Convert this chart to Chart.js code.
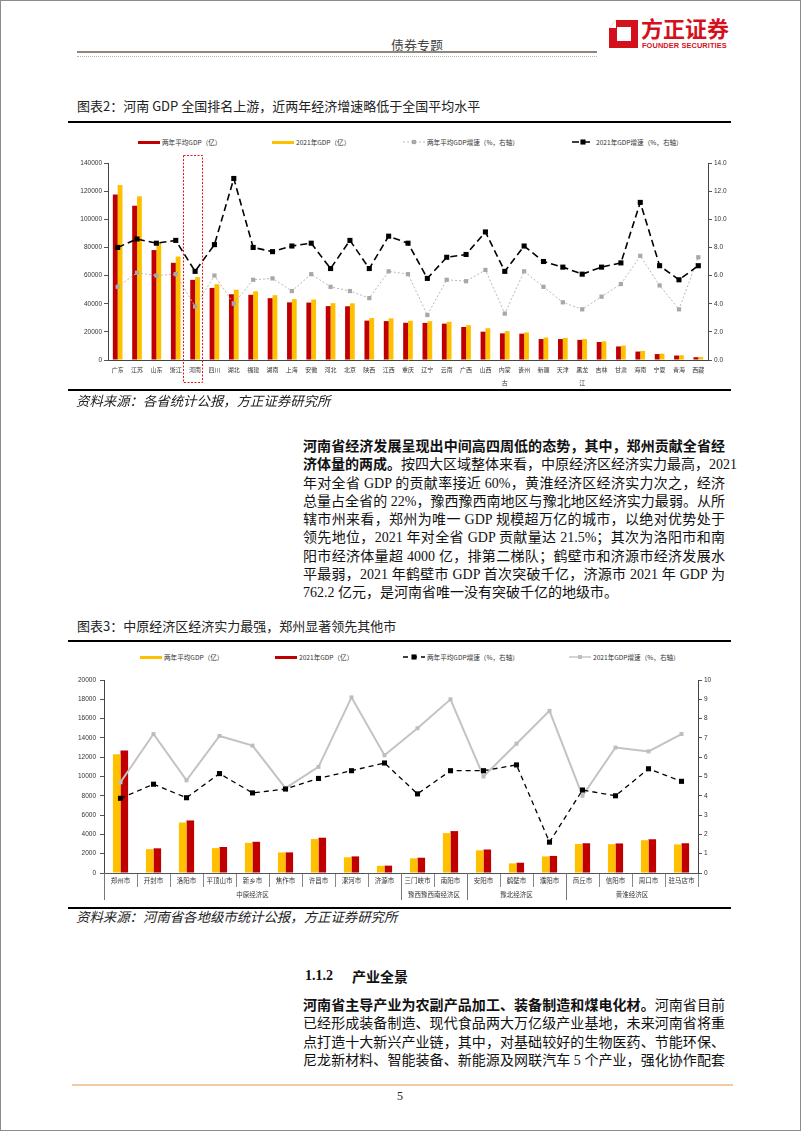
<!DOCTYPE html>
<html>
<head>
<meta charset="utf-8">
<script src="https://cdn.jsdelivr.net/npm/chart.js@4.4.1/dist/chart.umd.min.js"></script>
<style>
html,body{margin:0;padding:0;background:#fff;}
#page{position:relative;width:802px;height:1133px;overflow:hidden;background:#fff;color:#111;
  font-family:"Liberation Serif","Noto Sans CJK SC",serif;}
.abs{position:absolute;}
.frame{left:0;top:0;width:799px;height:1129px;border:1px solid #8c8c8c;}
.hdr{left:391px;top:36px;font:13px/18px "Noto Sans CJK SC",sans-serif;color:#444;}
.hline{left:77px;top:51px;width:520px;height:2px;background:#8f887a;}
.hdot{left:77px;top:56px;width:520px;height:0;border-top:1px dotted #b5b5b5;}
.logo-cn{left:641px;top:14px;font:bold 22px/26px "Noto Sans CJK SC",sans-serif;color:#d5101d;letter-spacing:0px;}
.logo-en{left:642px;top:41px;font:bold 7.4px/9px "Liberation Sans",sans-serif;color:#d5101d;letter-spacing:0.1px;}
.ttl{left:77px;font:13px/18px "Noto Sans CJK SC",sans-serif;color:#222;}
.thick{left:68px;width:663px;height:2px;background:#000;}
.src{left:76px;font:italic 13.4px/18px "Noto Sans CJK SC",sans-serif;color:#222;}
.para{left:303px;width:422px;font-size:14px;line-height:18.3px;}
.para div{text-align:justify;text-align-last:justify;white-space:nowrap;}
.para div.last{text-align-last:left;}
.legend{left:0;width:802px;height:10px;}
.lg-item{position:absolute;top:0;height:10px;display:flex;align-items:center;white-space:nowrap;
  font:6.6px/10px "Noto Sans CJK SC",sans-serif;color:#333;}
.lg-item .sw{width:22px;height:10px;margin-right:2px;display:flex;align-items:center;}
</style>
</head>
<body>
<div id="page">
  <div class="abs frame"></div>
  <div class="abs hdr">债券专题</div>
  <div class="abs hline"></div>
  <div class="abs hdot"></div>
  <svg class="abs" style="left:608px;top:19px" width="31" height="30" viewBox="0 0 31 30">
    <path d="M8 1 L30 1 L30 29 L1 29 L1 9 Z M9 8 L9 22 L23 22 L23 8 Z" fill="#d5101d" fill-rule="evenodd"/>
    <path d="M1 9 L8 1 L8 9 Z" fill="#ffffff"/>
  </svg>
  <div class="abs logo-cn">方正证券</div>
  <div class="abs logo-en">FOUNDER SECURITIES</div>

  <div class="abs ttl" style="top:97px">图表2：河南 GDP 全国排名上游，近两年经济增速略低于全国平均水平</div>
  <div class="abs thick" style="top:121px"></div>
  <div class="abs legend" id="lg1" style="top:137px"></div>
  <div class="abs" style="left:0;top:150px;width:802px;height:242px"><canvas id="c1" width="802" height="242"></canvas></div>
  <div class="abs thick" style="top:389px"></div>
  <div class="abs src" style="top:391px">资料来源：各省统计公报，方正证券研究所</div>

  <div class="abs para" style="top:438px">
    <div><b>河南省经济发展呈现出中间高四周低的态势，其中，郑州贡献全省经</b></div>
    <div><b>济体量的两成。</b>按四大区域整体来看，中原经济区经济实力最高，2021</div>
    <div>年对全省 GDP 的贡献率接近 60%，黄淮经济区经济实力次之，经济</div>
    <div>总量占全省的 22%，豫西豫西南地区与豫北地区经济实力最弱。从所</div>
    <div>辖市州来看，郑州为唯一 GDP 规模超万亿的城市，以绝对优势处于</div>
    <div>领先地位，2021 年对全省 GDP 贡献量达 21.5%；其次为洛阳市和南</div>
    <div>阳市经济体量超 4000 亿，排第二梯队；鹤壁市和济源市经济发展水</div>
    <div>平最弱，2021 年鹤壁市 GDP 首次突破千亿，济源市 2021 年 GDP 为</div>
    <div class="last">762.2 亿元，是河南省唯一没有突破千亿的地级市。</div>
  </div>

  <div class="abs ttl" style="top:617px">图表3：中原经济区经济实力最强，郑州显著领先其他市</div>
  <div class="abs thick" style="top:640px"></div>
  <div class="abs legend" id="lg2" style="top:652px"></div>
  <div class="abs" style="left:0;top:670px;width:802px;height:236px"><canvas id="c2" width="802" height="236"></canvas></div>
  <div class="abs thick" style="top:907px"></div>
  <div class="abs src" style="top:907px">资料来源：河南省各地级市统计公报，方正证券研究所</div>

  <div class="abs" style="left:305px;top:966px;font:bold 14px/20px 'Liberation Serif','Noto Sans CJK SC',serif;">1.1.2</div>
  <div class="abs" style="left:352px;top:966px;font:bold 14px/20px 'Noto Sans CJK SC',sans-serif;">产业全景</div>
  <div class="abs para" style="top:997px">
    <div><b>河南省主导产业为农副产品加工、装备制造和煤电化材。</b>河南省目前</div>
    <div>已经形成装备制造、现代食品两大万亿级产业基地，未来河南省将重</div>
    <div>点打造十大新兴产业链，其中，对基础较好的生物医药、节能环保、</div>
    <div>尼龙新材料、智能装备、新能源及网联汽车 5 个产业，强化协作配套</div>
  </div>
  <div class="abs" style="left:72px;top:1084px;width:661px;height:2px;background:#f2c9a2;"></div>
  <div class="abs" style="left:397px;top:1088px;font:12px/16px 'Liberation Serif',serif;color:#222;">5</div>
</div>

<script>
// ---------- Chart 1 data: provinces ----------
const provinces = ['广东','江苏','山东','浙江','河南','四川','湖北','福建','湖南','上海','安徽','河北','北京','陕西','江西','重庆','辽宁','云南','广西','山西','内蒙古','贵州','新疆','天津','黑龙江','吉林','甘肃','海南','宁夏','青海','西藏'];
const gdpAvg2y = [117565,109541,78112,69064,56942,51225,46728,46357,43922,40958,40820,38299,38186,27991,27656,26448,26350,25834,23449,20121,18937,18706,14891,14890,14289,12774,9630,6003,4222,3176,1991];
const gdp2021 = [124370,116364,83096,73516,58887,53851,50013,48810,46063,43215,42959,40391,40270,29801,29620,27894,27584,27147,24741,22590,20514,19586,15984,15695,14879,13236,10243,6475,4522,3347,2080];
const growthAvg2y = [5.2,6.2,6.0,6.1,3.8,6.0,4.0,5.7,5.8,4.9,6.1,5.2,4.9,4.4,6.3,6.1,3.2,5.7,5.6,6.4,3.3,6.3,5.2,4.1,3.6,4.5,5.4,7.4,5.3,3.6,7.3];
const growth2021 = [8.0,8.6,8.3,8.5,6.3,8.2,12.9,8.0,7.7,8.1,8.3,6.5,8.5,6.5,8.8,8.3,5.8,7.3,7.5,9.1,6.3,8.1,7.0,6.6,6.1,6.6,6.9,11.2,6.7,5.7,6.7];
const highlightProvince = '河南';

// ---------- Chart 2 data: Henan cities ----------
const cities = ['郑州市','开封市','洛阳市','平顶山市','新乡市','焦作市','许昌市','漯河市','济源市','三门峡市','南阳市','安阳市','鹤壁市','濮阳市','商丘市','信阳市','周口市','驻马店市'];
const cityGdpAvg2y = [12300,2470,5230,2580,3120,2130,3520,1630,740,1520,4130,2350,1000,1720,3000,2990,3400,2960];
const cityGdp2021 = [12691,2557,5447,2694,3233,2136,3656,1721,762,1583,4342,2435,1064,1771,3083,3064,3497,3082];
const cityGrowthAvg2y = [3.87,4.6,3.9,5.15,4.15,4.35,4.9,5.3,5.7,4.1,5.3,5.3,5.6,1.6,4.3,4.0,5.4,4.75];
const cityGrowth2021 = [4.7,7.2,4.8,7.1,6.6,4.4,5.5,9.1,6.1,7.5,9.0,5.0,6.7,8.4,4.0,6.5,6.3,7.2];
const regionNames = ['中原经济区','豫西豫西南经济区','豫北经济区','黄淮经济区'];
const regionSizes = [9,2,3,4];

// axis tick settings
const leftTicks1 = {min:0, max:140000, step:20000};
const rightTicks1 = {min:0, max:14, step:2};
const leftTicks2 = {min:0, max:20000, step:2000};
const rightTicks2 = {min:0, max:10, step:1};

const RED = '#C00000', YEL = '#FFC000';
const CJK = '"Noto Sans CJK SC", "Liberation Sans", sans-serif';
const LAT = '"Liberation Sans", "Noto Sans CJK SC", sans-serif';
Chart.defaults.font.family = LAT;
Chart.defaults.color = '#222';

// HTML legend built from the chart's datasets
const htmlLegend = {
  id: 'htmlLegend',
  afterUpdate(chart, args, opts) {
    const box = document.getElementById(opts.containerID);
    if (!box) return;
    box.innerHTML = '';
    const order = opts.order || chart.data.datasets.map((d, i) => i);
    order.forEach((di, k) => {
      const ds = chart.data.datasets[di];
      const item = document.createElement('div');
      item.className = 'lg-item';
      item.style.left = opts.positions[k] + 'px';
      const sw = document.createElement('div');
      sw.className = 'sw';
      if (ds.type === 'bar') {
        sw.innerHTML = '<div style="width:22px;height:3px;background:' + ds.backgroundColor + '"></div>';
      } else {
        const dash = (ds.borderDash || []).join(',');
        const r = ds.pointRadius * Math.SQRT1_2;
        sw.innerHTML = '<svg width="22" height="10"><line x1="0" y1="5" x2="22" y2="5" stroke="' + ds.borderColor +
          '" stroke-width="' + Math.min(ds.borderWidth, 1.4) + '" stroke-dasharray="' + dash + '"/>' +
          '<rect x="' + (11 - r) + '" y="' + (5 - r) + '" width="' + (2 * r) + '" height="' + (2 * r) + '" fill="' + ds.pointBackgroundColor + '"/></svg>';
      }
      const t = document.createElement('span');
      t.textContent = ds.label;
      item.appendChild(sw);
      item.appendChild(t);
      box.appendChild(item);
    });
  }
};

// dashed highlight box around one category (chart 1)
const highlightBox = {
  id: 'highlightBox',
  afterDraw(chart, args, opts) {
    const i = chart.data.labels.indexOf(opts.category);
    if (i < 0) return;
    const xs = chart.scales.x, ctx = chart.ctx, ca = chart.chartArea;
    const cx = xs.getPixelForValue(i);
    ctx.save();
    ctx.strokeStyle = opts.color;
    ctx.lineWidth = 1;
    ctx.setLineDash([2, 1.5]);
    ctx.strokeRect(Math.round(cx + opts.dx0) + 0.5, Math.round(ca.top + opts.dy0) + 0.5,
      opts.dx1 - opts.dx0, (ca.bottom + opts.dy1) - (ca.top + opts.dy0));
    ctx.restore();
  }
};

// grouped category axis (chart 2)
const groupAxis = {
  id: 'groupAxis',
  afterDraw(chart, args, opts) {
    const xs = chart.scales.x, ctx = chart.ctx;
    const y0 = chart.chartArea.bottom;
    const half = (xs.getPixelForValue(1) - xs.getPixelForValue(0)) / 2;
    ctx.save();
    ctx.strokeStyle = opts.lineColor;
    ctx.lineWidth = 1;
    ctx.fillStyle = opts.textColor;
    ctx.font = opts.font;
    ctx.textAlign = 'center';
    ctx.textBaseline = 'middle';
    let start = 0;
    opts.names.forEach((name, g) => {
      const n = opts.sizes[g];
      const left = xs.getPixelForValue(start) - half;
      const right = xs.getPixelForValue(start + n - 1) + half;
      const lx = Math.round(left) + 0.5;
      ctx.beginPath();
      ctx.moveTo(lx, y0);
      ctx.lineTo(lx, y0 + opts.depth);
      ctx.stroke();
      ctx.fillText(name, (left + right) / 2, y0 + opts.labelOffset);
      start += n;
    });
    ctx.restore();
  }
};

function yAxis(pos, t, width, fmt, fontSize, pad) {
  return {
    type: 'linear', position: pos, min: t.min, max: t.max,
    ticks: { stepSize: t.step, font: { size: fontSize, family: LAT }, color: '#333', padding: pad,
      callback: fmt },
    grid: { drawOnChartArea: false, drawTicks: true, tickLength: 4, color: '#555' },
    border: { color: '#444', width: 1 },
    afterFit(s) { s.width = width; }
  };
}

// ---------- Chart 1 ----------
new Chart(document.getElementById('c1'), {
  data: {
    labels: provinces,
    datasets: [
      { type: 'bar', label: '两年平均GDP（亿）', data: gdpAvg2y, backgroundColor: RED, yAxisID: 'y',
        barPercentage: 1, categoryPercentage: 0.5, order: 3 },
      { type: 'bar', label: '2021年GDP（亿）', data: gdp2021, backgroundColor: YEL, yAxisID: 'y',
        barPercentage: 1, categoryPercentage: 0.5, order: 3 },
      { type: 'line', label: '两年平均GDP增速（%，右轴）', data: growthAvg2y, yAxisID: 'y1',
        borderColor: '#b8b8b8', borderWidth: 1, borderDash: [2, 2], pointStyle: 'rect', pointRadius: 3,
        pointBackgroundColor: '#a8a8a8', pointBorderWidth: 0, tension: 0, order: 2 },
      { type: 'line', label: '2021年GDP增速（%，右轴）', data: growth2021, yAxisID: 'y1',
        borderColor: '#000', borderWidth: 1.6, borderDash: [7, 4], pointStyle: 'rect', pointRadius: 3.6,
        pointBackgroundColor: '#000', pointBorderWidth: 0, tension: 0, order: 1 }
    ]
  },
  options: {
    responsive: false, animation: false, devicePixelRatio: 1,
    layout: { padding: { top: 13, left: 0, right: 0, bottom: 0 } },
    plugins: {
      legend: { display: false }, tooltip: { enabled: false },
      htmlLegend: { containerID: 'lg1', positions: [138, 272, 403, 572] },
      highlightBox: { category: highlightProvince, color: '#e8141c', dx0: -12, dx1: 7, dy0: -8, dy1: 22 }
    },
    scales: {
      x: {
        grid: { drawOnChartArea: false, drawTicks: false },
        border: { color: '#444', width: 1 },
        ticks: { autoSkip: false, maxRotation: 0, padding: 3.5, color: '#333',
          font: { size: 6, family: CJK, lineHeight: 2.1 },
          callback(v, i) { const s = provinces[i]; return s.length > 2 ? [s.slice(0, 2), s.slice(2)] : s; } },
        afterFit(s) { s.height = 32; }
      },
      y: yAxis('left', leftTicks1, 108, v => v, 6.5, 2),
      y1: yAxis('right', rightTicks1, 94, v => v.toFixed(1), 6.5, 2)
    }
  },
  plugins: [htmlLegend, highlightBox]
});

// ---------- Chart 2 ----------
new Chart(document.getElementById('c2'), {
  data: {
    labels: cities,
    datasets: [
      { type: 'bar', label: '两年平均GDP（亿）', data: cityGdpAvg2y, backgroundColor: YEL, yAxisID: 'y',
        barPercentage: 1, categoryPercentage: 0.46, order: 3 },
      { type: 'bar', label: '2021年GDP（亿）', data: cityGdp2021, backgroundColor: RED, yAxisID: 'y',
        barPercentage: 1, categoryPercentage: 0.46, order: 3 },
      { type: 'line', label: '两年平均GDP增速（%，右轴）', data: cityGrowthAvg2y, yAxisID: 'y1',
        borderColor: '#000', borderWidth: 1.3, borderDash: [5, 4], pointStyle: 'rect', pointRadius: 3.6,
        pointBackgroundColor: '#000', pointBorderWidth: 0, tension: 0, order: 1 },
      { type: 'line', label: '2021年GDP增速（%，右轴）', data: cityGrowth2021, yAxisID: 'y1',
        borderColor: '#c3c3c3', borderWidth: 2, pointStyle: 'rect', pointRadius: 2.8,
        pointBackgroundColor: '#bdbdbd', pointBorderWidth: 0, tension: 0, order: 2 }
    ]
  },
  options: {
    responsive: false, animation: false, devicePixelRatio: 1,
    layout: { padding: { top: 10, left: 0, right: 0, bottom: 0 } },
    plugins: {
      legend: { display: false }, tooltip: { enabled: false },
      htmlLegend: { containerID: 'lg2', positions: [140, 275, 403, 569] },
      groupAxis: { names: regionNames, sizes: regionSizes, depth: 27, labelOffset: 22,
        lineColor: '#777', textColor: '#333', font: '6.5px ' + CJK }
    },
    scales: {
      x: {
        grid: { drawOnChartArea: false, drawTicks: true, tickLength: 14, color: '#888', offset: true },
        border: { color: '#555', width: 1 },
        ticks: { autoSkip: false, maxRotation: 0, padding: -10, color: '#333',
          font: { size: 6.5, family: CJK } },
        afterFit(s) { s.height = 33; }
      },
      y: yAxis('left', leftTicks2, 104, v => v, 6.5, 4),
      y1: yAxis('right', rightTicks2, 104, v => v, 6.5, 2)
    }
  },
  plugins: [htmlLegend, groupAxis]
});
</script>
</body>
</html>
